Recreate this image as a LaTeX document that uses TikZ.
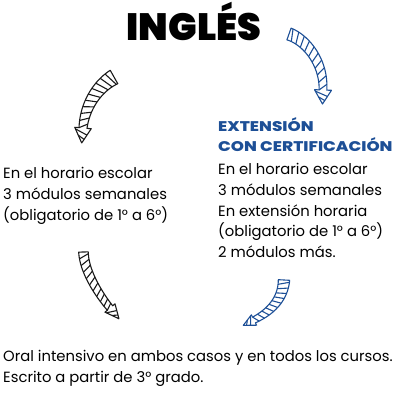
\documentclass[tikz,border=0pt]{standalone}
\usepackage{fontspec}
\setmainfont{Poppins}
\newfontfamily\titlefont{Poppins Black}
\newfontfamily\headfont{Poppins ExtraBold}[FakeStretch=1.2]
\usetikzlibrary{calc}

\definecolor{inkblue}{HTML}{1D4F96}
\definecolor{ink}{HTML}{1A1A1A}

\tikzset{
  seg/.style={sloped, allow upside down, shape=rectangle, inner sep=0pt, outer sep=0pt, minimum width=0pt},
  arrowline/.style={line width=1.1pt, line join=round},
  body/.style={font=\fontsize{14.8}{17}\selectfont, inner sep=0pt, anchor=base west},
  head/.style={font=\fontsize{14}{15}\headfont, text=inkblue, inner sep=0pt, anchor=base west},
}

% curved hatched arrow: name, colour, path, tail half width, end half width, head half width, head length
\newcommand\hatcharrow[7]{%
  \path #3 \foreach \i in {0,...,30} {node[seg, pos=\i/30, minimum height={2*(#4-(#4-#5)*\i/30)}] (#1\i) {}}
    node[seg, pos=1, minimum height={2*#6}, minimum width={2*#7}] (#1h) {};
  \draw[#2, arrowline] (#10.north) \foreach \i in {1,...,30} {-- (#1\i.north)} -- (#1h.north) -- (#1h.east)
    -- (#1h.south) \foreach \i in {30,29,...,0} {-- (#1\i.south)} -- cycle;
  \foreach \i in {1,4,...,28} {\pgfmathtruncatemacro\j{\i+2} \draw[#2, arrowline] (#1\i.north) -- (#1\j.south);}
  \draw[#2, arrowline] ($(#1h.north)!.45!(#1h.east)$) -- ($(#1h.south)!.1!(#1h.east)$);
  \draw[#2, arrowline] ($(#1h.north)!.75!(#1h.east)$) -- ($(#1h.south)!.5!(#1h.east)$);
}

\begin{document}
\begin{tikzpicture}[x=1pt, y=-1pt]
  \useasboundingbox (0,0) rectangle (400,400);

  \node[font=\fontsize{38}{40}\selectfont\titlefont, inner sep=0pt, anchor=base] (title) at (194,40) {INGLÉS};

  % arrows
  \hatcharrow{a}{ink}{(114,77) .. controls (98,86) and (85,105) .. (83,128)}{7.7}{4}{8.3}{15}
  \hatcharrow{b}{inkblue}{(289,34) .. controls (306,40) and (324,62) .. (323,90)}{6.2}{3.8}{8.5}{14}
  \hatcharrow{c}{ink}{(83.5,252) .. controls (84,272) and (100,296) .. (110,308)}{4.8}{3.5}{6.5}{14}
  \hatcharrow{d}{inkblue}{(284,280) .. controls (283,298) and (272,311) .. (254,320)}{5.7}{3.2}{5.8}{12}

  % left column
  \foreach \t [count=\i] in {En el horario escolar, 3 módulos semanales, {(obligatorio de 1° a 6°)}}
    \node[body] (left\i) at (3,{178+21*(\i-1)}) {\t};

  % right column
  \node[head] (ext1) at (218,131.5) {EXTENSIÓN};
  \node[head] (ext2) at (218,151.5) {CON CERTIFICACIÓN};
  \foreach \t [count=\i] in {En el horario escolar, 3 módulos semanales, En extensión horaria,
      {(obligatorio de 1° a 6°)}, 2 módulos más.}
    \node[body] (right\i) at (218,{174.5+20.8*(\i-1)}) {\t};

  % bottom
  \node[body] (oral) at (3,361) {Oral intensivo en ambos casos y en todos los cursos.};
  \node[body] (escrito) at (3,382) {Escrito a partir de 3° grado.};
\end{tikzpicture}
\end{document}
